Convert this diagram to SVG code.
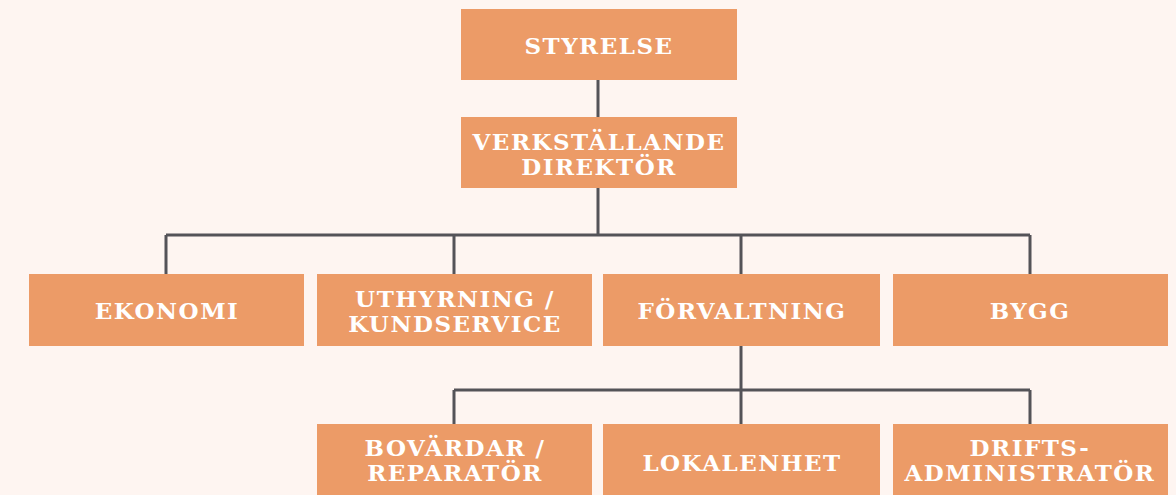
<svg xmlns="http://www.w3.org/2000/svg" width="1176" height="495" viewBox="0 0 1176 495">
<style>
.box{fill:#EC9B67}
.t{font-family:"DejaVu Serif","Liberation Serif",serif;font-weight:bold;font-size:23px;fill:#ffffff;text-anchor:middle;letter-spacing:1.5px;dominant-baseline:central}
.c{stroke:#545358;stroke-width:3;fill:none}
</style>
<rect width="1176" height="495" fill="#FEF5F1"/>
<g id="connectors">
<path class="c" d="M598 80V117M598 188V235M166 235H1030M166 235V274M454 235V274M741 235V274M1030 235V274M741 346V390M454 390H1030M454 390V424M741 390V424M1030 390V424"/>
</g>
<g id="styrelse"><rect class="box" x="461" y="9" width="276" height="71"/><text class="t" x="599" y="45">STYRELSE</text></g>
<g id="vd"><rect class="box" x="461" y="117" width="276" height="71"/><text class="t" x="599" y="141">VERKSTÄLLANDE</text><text class="t" x="599" y="166">DIREKTÖR</text></g>
<g id="ekonomi"><rect class="box" x="29" y="274" width="275" height="72"/><text class="t" x="167" y="310">EKONOMI</text></g>
<g id="uthyrning"><rect class="box" x="317" y="274" width="275" height="72"/><text class="t" x="455" y="298">UTHYRNING /</text><text class="t" x="455" y="323">KUNDSERVICE</text></g>
<g id="forvaltning"><rect class="box" x="603" y="274" width="277" height="72"/><text class="t" x="742" y="310">FÖRVALTNING</text></g>
<g id="bygg"><rect class="box" x="893" y="274" width="275" height="72"/><text class="t" x="1030" y="310">BYGG</text></g>
<g id="bovardar"><rect class="box" x="317" y="424" width="275" height="71"/><text class="t" x="455" y="447">BOVÄRDAR /</text><text class="t" x="455" y="472">REPARATÖR</text></g>
<g id="lokalenhet"><rect class="box" x="603" y="424" width="277" height="71"/><text class="t" x="742" y="462">LOKALENHET</text></g>
<g id="drifts"><rect class="box" x="893" y="424" width="275" height="71"/><text class="t" x="1030" y="447">DRIFTS-</text><text class="t" x="1030" y="472">ADMINISTRATÖR</text></g>
</svg>
